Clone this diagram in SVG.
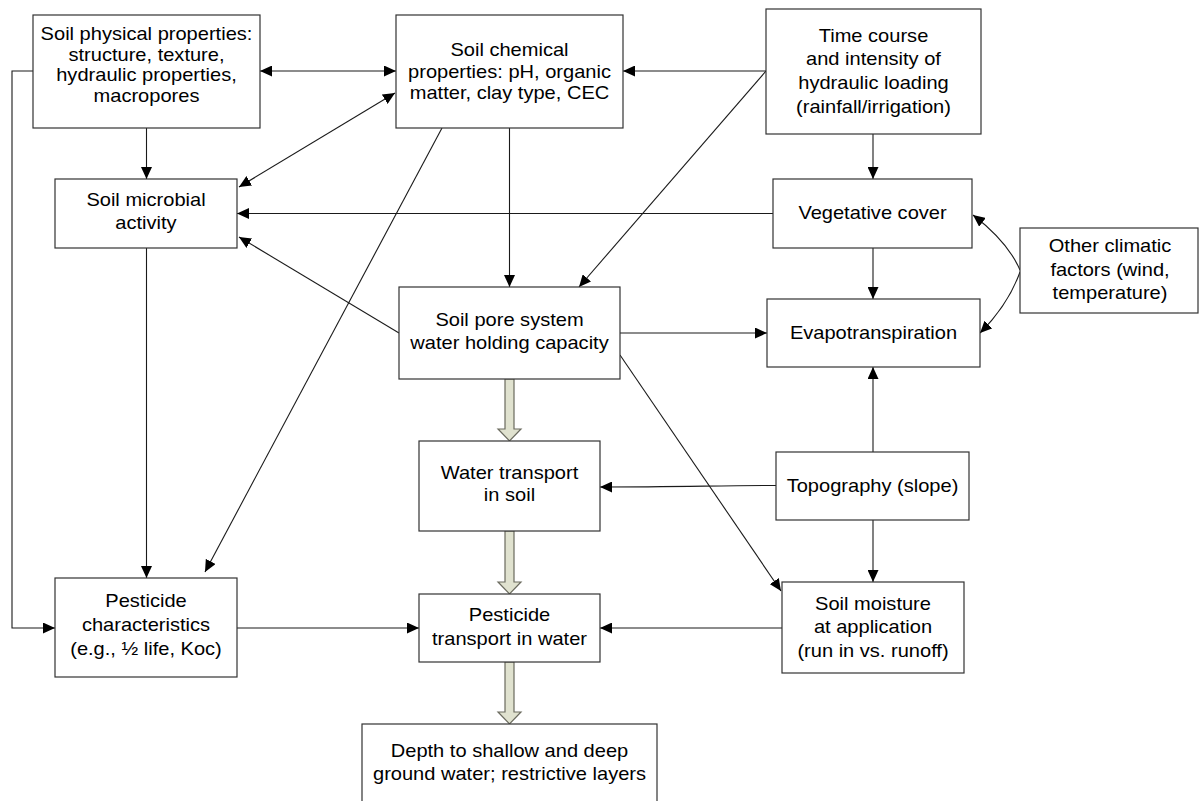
<svg xmlns="http://www.w3.org/2000/svg" width="1199" height="801" viewBox="0 0 1199 801">
<style>
.box{fill:#fff;stroke:#333;stroke-width:1.2}
.t{font-family:"Liberation Sans",Arial,sans-serif;font-size:18px;fill:#000;text-anchor:middle}
.c{fill:none;stroke:#1a1a1a;stroke-width:1.1}
.wide{fill:#e0e2cf;stroke:#6a6a5e;stroke-width:1.2}
</style>
<defs>
<marker id="ah" viewBox="0 0 12 11" refX="12" refY="5.5" markerWidth="12" markerHeight="11" markerUnits="userSpaceOnUse" orient="auto-start-reverse">
<path d="M0,0 L12,5.5 L0,11 z" fill="#000"/>
</marker>
</defs>
<rect width="1199" height="801" fill="#fff"/>
<g id="connectors">
<path class="c" d="M260,71 L396,71" marker-start="url(#ah)" marker-end="url(#ah)"/>
<path class="c" d="M766,71 L623,71" marker-end="url(#ah)"/>
<path class="c" d="M766,71 L579,287" marker-end="url(#ah)"/>
<path class="c" d="M873,134 L873,179" marker-end="url(#ah)"/>
<path class="c" d="M773,213.5 L237,213.5" marker-end="url(#ah)"/>
<path class="c" d="M873,248 L873,299" marker-end="url(#ah)"/>
<path class="c" d="M1020,270 Q1008,242 973,215" marker-end="url(#ah)"/>
<path class="c" d="M1020,272 Q1008,305 980,333" marker-end="url(#ah)"/>
<path class="c" d="M620,333 L767,333" marker-end="url(#ah)"/>
<path class="c" d="M873,452 L873,367" marker-end="url(#ah)"/>
<path class="c" d="M776,485.5 C720,485.5 680,487 600,487" marker-end="url(#ah)"/>
<path class="c" d="M873,520 L873,582" marker-end="url(#ah)"/>
<path class="c" d="M782,628 L600,628" marker-end="url(#ah)"/>
<path class="c" d="M620,355 L781,591" marker-end="url(#ah)"/>
<path class="c" d="M237,628 L419,628" marker-end="url(#ah)"/>
<path class="c" d="M399,333 L239,237" marker-end="url(#ah)"/>
<path class="c" d="M442,128 L205,572" marker-end="url(#ah)"/>
<path class="c" d="M509.5,128 L509.5,287" marker-end="url(#ah)"/>
<path class="c" d="M146.5,128 L146.5,179" marker-end="url(#ah)"/>
<path class="c" d="M239,187 L395,93" marker-start="url(#ah)" marker-end="url(#ah)"/>
<path class="c" d="M146.5,248 L146.5,578" marker-end="url(#ah)"/>
<path class="c" d="M33,71 L12,71 L12,628 L55,628" marker-end="url(#ah)"/>
<polygon class="wide" points="505,379 514,379 514,429 521,429 509.5,441 498,429 505,429"/>
<polygon class="wide" points="505,531 514,531 514,582 521,582 509.5,594 498,582 505,582"/>
<polygon class="wide" points="505,662 514,662 514,712 521,712 509.5,724 498,712 505,712"/>
</g>
<g id="soil-physical">
<rect class="box" x="33" y="15" width="227" height="113"/>
<text class="t" transform="translate(146.5 0) scale(1.115 1)"><tspan x="0" y="40.5">Soil physical properties:</tspan><tspan x="0" y="61">structure, texture,</tspan><tspan x="0" y="81.5">hydraulic properties,</tspan><tspan x="0" y="102">macropores</tspan></text>
</g>
<g id="soil-chemical">
<rect class="box" x="396" y="15" width="227" height="113"/>
<text class="t" transform="translate(509.5 0) scale(1.115 1)"><tspan x="0" y="56.5">Soil chemical</tspan><tspan x="0" y="78">properties: pH, organic</tspan><tspan x="0" y="99.5">matter, clay type, CEC</tspan></text>
</g>
<g id="time-course">
<rect class="box" x="766" y="9" width="215" height="125"/>
<text class="t" transform="translate(873.5 0) scale(1.115 1)"><tspan x="0" y="42">Time course</tspan><tspan x="0" y="65.5">and intensity of</tspan><tspan x="0" y="89.5">hydraulic loading</tspan><tspan x="0" y="113">(rainfall/irrigation)</tspan></text>
</g>
<g id="soil-microbial">
<rect class="box" x="55" y="179" width="182" height="69"/>
<text class="t" transform="translate(146 0) scale(1.115 1)"><tspan x="0" y="206">Soil microbial</tspan><tspan x="0" y="229.5">activity</tspan></text>
</g>
<g id="vegetative-cover">
<rect class="box" x="773" y="179" width="199" height="69"/>
<text class="t" transform="translate(872.5 0) scale(1.115 1)"><tspan x="0" y="219.5">Vegetative cover</tspan></text>
</g>
<g id="other-climatic">
<rect class="box" x="1020" y="228" width="178" height="85"/>
<text class="t" transform="translate(1110 0) scale(1.115 1)"><tspan x="0" y="252.5">Other climatic</tspan><tspan x="0" y="276">factors (wind,</tspan><tspan x="0" y="299">temperature)</tspan></text>
</g>
<g id="evapotranspiration">
<rect class="box" x="767" y="299" width="213" height="68"/>
<text class="t" transform="translate(873.5 0) scale(1.115 1)"><tspan x="0" y="339.5">Evapotranspiration</tspan></text>
</g>
<g id="soil-pore">
<rect class="box" x="399" y="287" width="221" height="92"/>
<text class="t" transform="translate(509.5 0) scale(1.115 1)"><tspan x="0" y="326">Soil pore system</tspan><tspan x="0" y="349.5">water holding capacity</tspan></text>
</g>
<g id="water-transport">
<rect class="box" x="419" y="441" width="181" height="90"/>
<text class="t" transform="translate(509.5 0) scale(1.115 1)"><tspan x="0" y="479">Water transport</tspan><tspan x="0" y="501">in soil</tspan></text>
</g>
<g id="topography">
<rect class="box" x="776" y="452" width="193" height="68"/>
<text class="t" transform="translate(872.5 0) scale(1.115 1)"><tspan x="0" y="492">Topography (slope)</tspan></text>
</g>
<g id="pesticide-characteristics">
<rect class="box" x="55" y="578" width="182" height="99"/>
<text class="t" transform="translate(146 0) scale(1.115 1)"><tspan x="0" y="607">Pesticide</tspan><tspan x="0" y="631">characteristics</tspan><tspan x="0" y="655">(e.g., ½ life, Koc)</tspan></text>
</g>
<g id="pesticide-transport">
<rect class="box" x="419" y="594" width="181" height="68"/>
<text class="t" transform="translate(509.5 0) scale(1.115 1)"><tspan x="0" y="621.5">Pesticide</tspan><tspan x="0" y="645">transport in water</tspan></text>
</g>
<g id="soil-moisture">
<rect class="box" x="782" y="582" width="182" height="91"/>
<text class="t" transform="translate(873 0) scale(1.115 1)"><tspan x="0" y="610">Soil moisture</tspan><tspan x="0" y="633.5">at application</tspan><tspan x="0" y="657">(run in vs. runoff)</tspan></text>
</g>
<g id="depth">
<rect class="box" x="362" y="724" width="295" height="100"/>
<text class="t" transform="translate(509.5 0) scale(1.115 1)"><tspan x="0" y="757">Depth to shallow and deep</tspan><tspan x="0" y="780">ground water; restrictive layers</tspan></text>
</g>
</svg>
